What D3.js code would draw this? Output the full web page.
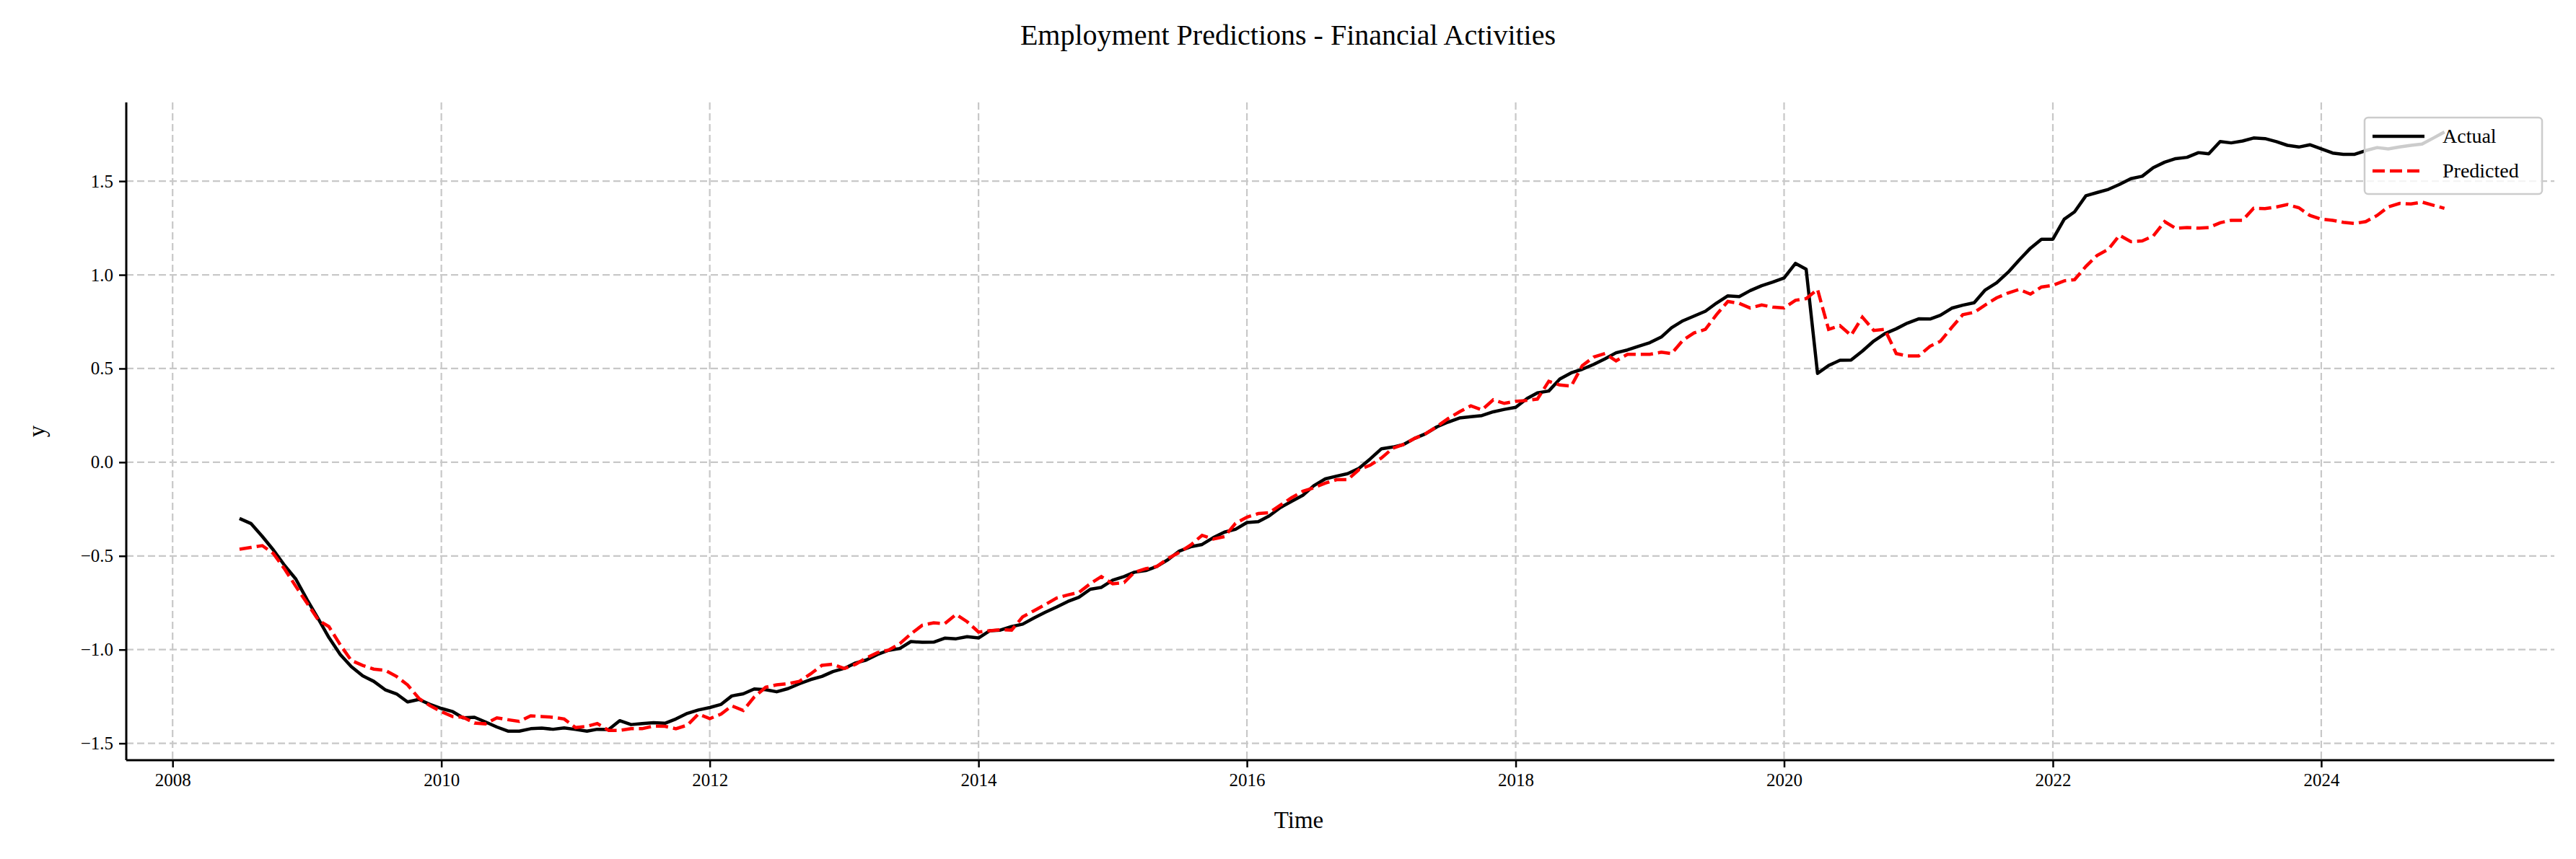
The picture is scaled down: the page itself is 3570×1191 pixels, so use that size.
<!DOCTYPE html>
<html><head><meta charset="utf-8">
<script src="https://cdn.jsdelivr.net/npm/d3@7"></script>
<style>body{margin:0;background:#fff}svg text{font-family:"Liberation Serif","Times New Roman",serif}</style>
</head><body><svg id="c" width="3570" height="1191"></svg>
<script>
const startYear = 2008, startMonth = 7; // first observation: July 2008
const actual = [-0.30,-0.327,-0.396,-0.468,-0.552,-0.623,-0.734,-0.838,-0.935,-1.026,-1.091,-1.14,-1.169,-1.214,-1.236,-1.279,-1.266,-1.292,-1.314,-1.331,-1.364,-1.361,-1.386,-1.413,-1.435,-1.435,-1.422,-1.419,-1.425,-1.418,-1.426,-1.435,-1.425,-1.426,-1.379,-1.40,-1.395,-1.39,-1.393,
-1.37,-1.34,-1.322,-1.309,-1.292,-1.247,-1.236,-1.21,-1.214,-1.225,-1.208,-1.182,-1.16,-1.143,-1.117,-1.10,-1.071,-1.056,-1.026,-1.004,-0.994,-0.957,-0.961,-0.96,-0.939,-0.942,-0.931,-0.938,-0.899,-0.896,-0.877,-0.864,-0.831,-0.801,-0.773,-0.743,-0.721,-0.678,
-0.668,-0.629,-0.61,-0.587,-0.578,-0.556,-0.519,-0.474,-0.451,-0.439,-0.403,-0.373,-0.358,-0.322,-0.317,-0.287,-0.242,-0.209,-0.177,-0.125,-0.089,-0.074,-0.061,-0.032,0.017,0.072,0.081,0.094,0.127,0.152,0.189,0.214,0.236,0.243,0.249,0.269,0.282,0.293,0.34,
0.37,0.38,0.444,0.477,0.496,0.522,0.552,0.584,0.599,0.619,0.638,0.668,0.718,0.755,0.78,0.806,0.849,0.888,0.884,0.916,0.942,0.961,0.983,1.061,1.03,0.474,0.516,0.544,0.545,0.593,0.647,0.686,0.712,0.742,0.765,0.764,0.784,0.822,0.838,
0.851,0.919,0.957,1.013,1.078,1.142,1.19,1.19,1.297,1.336,1.422,1.439,1.456,1.482,1.513,1.526,1.572,1.601,1.62,1.627,1.652,1.646,1.711,1.704,1.714,1.73,1.727,1.711,1.691,1.682,1.694,1.672,1.65,1.643,1.643,1.663,1.679,1.672,1.682,1.691,1.698,1.73,1.762];
const predicted = [-0.464,-0.455,-0.445,-0.487,-0.571,-0.662,-0.753,-0.844,-0.877,-0.974,-1.058,-1.084,-1.104,-1.11,-1.143,-1.188,-1.26,-1.299,-1.331,-1.357,-1.361,-1.392,-1.396,-1.364,-1.374,-1.383,-1.353,-1.357,-1.361,-1.37,-1.416,-1.409,-1.394,-1.431,-1.431,-1.422,-1.422,-1.408,-1.409,
-1.422,-1.403,-1.344,-1.368,-1.344,-1.30,-1.325,-1.253,-1.201,-1.188,-1.182,-1.169,-1.13,-1.084,-1.078,-1.101,-1.078,-1.045,-1.016,-1.003,-0.968,-0.916,-0.87,-0.857,-0.861,-0.812,-0.851,-0.906,-0.899,-0.894,-0.896,-0.825,-0.792,-0.76,-0.725,-0.708,-0.695,-0.648,
-0.61,-0.649,-0.642,-0.587,-0.568,-0.556,-0.513,-0.481,-0.442,-0.39,-0.41,-0.397,-0.326,-0.293,-0.274,-0.27,-0.229,-0.19,-0.155,-0.136,-0.112,-0.093,-0.093,-0.039,-0.016,0.023,0.075,0.094,0.127,0.152,0.191,0.233,0.269,0.301,0.279,0.333,0.314,0.325,0.33,
0.337,0.432,0.412,0.406,0.515,0.561,0.58,0.541,0.576,0.576,0.576,0.587,0.58,0.651,0.69,0.709,0.787,0.858,0.848,0.823,0.839,0.828,0.823,0.864,0.873,0.922,0.709,0.729,0.677,0.774,0.703,0.709,0.58,0.567,0.567,0.619,0.645,0.719,0.787,
0.8,0.839,0.877,0.903,0.922,0.897,0.935,0.944,0.968,0.974,1.045,1.103,1.136,1.211,1.177,1.181,1.207,1.284,1.248,1.252,1.249,1.252,1.278,1.291,1.291,1.355,1.353,1.362,1.375,1.358,1.317,1.297,1.291,1.28,1.274,1.284,1.317,1.362,1.381,1.378,1.388,1.371,1.355];
const yTicks = [-1.5,-1.0,-0.5,0.0,0.5,1.0,1.5];
const xTickYears = [2008,2010,2012,2014,2016,2018,2020,2022,2024];
const seriesNames = ["Actual","Predicted"];

const dates = actual.map((_, i) => new Date(startYear, startMonth - 1 + i, 1));
const svg = d3.select("#c");
const L = 175, R = 3540, T = 142, B = 1054;
const x = d3.scaleTime().domain([new Date(2007, 7, 28), new Date(2025, 8, 26)]).range([L, R]);
const y = d3.scaleLinear().domain([-1.59, 1.92]).range([B, T]);

const grid = svg.append("g").attr("stroke", "#c8c8c8").attr("stroke-width", 2.2).attr("stroke-dasharray", "10,5");
xTickYears.forEach(yr => grid.append("line").attr("x1", x(new Date(yr,0,1))).attr("x2", x(new Date(yr,0,1))).attr("y1", T).attr("y2", B));
yTicks.forEach(v => grid.append("line").attr("x1", L).attr("x2", R).attr("y1", y(v)).attr("y2", y(v)));

const line = d3.line().x((d, i) => x(dates[i])).y(d => y(d));
svg.append("path").datum(actual).attr("d", line).attr("fill", "none").attr("stroke", "#000").attr("stroke-width", 4.5).attr("stroke-linejoin","round");
svg.append("path").datum(predicted).attr("d", line).attr("fill", "none").attr("stroke", "#ff0000").attr("stroke-width", 4.5).attr("stroke-dasharray", "17,7");

const fmt = v => (v < 0 ? "\u2212" : "") + Math.abs(v).toFixed(1);
const xa = svg.append("g").attr("transform", `translate(0,${B})`)
  .call(d3.axisBottom(x).tickValues(xTickYears.map(yr => new Date(yr,0,1))).tickFormat(d3.timeFormat("%Y")).tickSize(10).tickPadding(8));
const ya = svg.append("g").attr("transform", `translate(${L},0)`)
  .call(d3.axisLeft(y).tickValues(yTicks).tickFormat(fmt).tickSize(10).tickPadding(8));
[xa, ya].forEach(a => { a.select(".domain").attr("stroke-width", 3); a.selectAll(".tick line").attr("stroke-width", 2.5);
  a.selectAll("text").attr("font-size", 25).attr("fill", "#000").attr("font-family", "Liberation Serif"); });
xa.select(".domain").attr("d", `M${L},0H${R}`);
ya.select(".domain").attr("d", `M0,${B}V${T}`);

svg.append("text").attr("x", 1785).attr("y", 62).attr("text-anchor", "middle").attr("font-size", 40).text("Employment Predictions - Financial Activities");
svg.append("text").attr("x", 1800).attr("y", 1148).attr("text-anchor", "middle").attr("font-size", 33).text("Time");
svg.append("text").attr("transform", "translate(62,598) rotate(-90)").attr("text-anchor", "middle").attr("font-size", 33).text("y");

const lg = svg.append("g");
lg.append("rect").attr("x", 3277).attr("y", 163).attr("width", 246).attr("height", 106).attr("rx", 5)
  .attr("fill", "rgba(255,255,255,0.8)").attr("stroke", "#cccccc").attr("stroke-width", 2.5);
const styles = [{c:"#000", d:null}, {c:"#ff0000", d:"17,7"}];
seriesNames.forEach((n, i) => {
  const yy = 189 + i * 48;
  lg.append("line").attr("x1", 3288).attr("x2", 3360).attr("y1", yy).attr("y2", yy).attr("stroke", styles[i].c).attr("stroke-width", 4.5).attr("stroke-dasharray", styles[i].d);
  lg.append("text").attr("x", 3385).attr("y", yy + 9).attr("font-size", 28).text(n);
});
</script></body></html>
